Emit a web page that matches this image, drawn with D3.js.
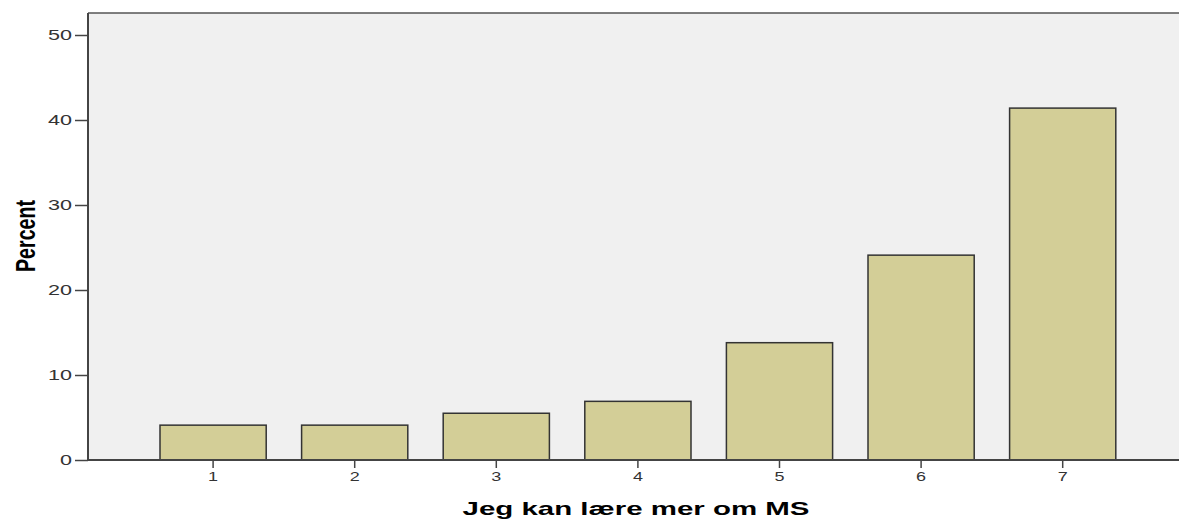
<!DOCTYPE html>
<html>
<head>
<meta charset="utf-8">
<script src="https://cdn.jsdelivr.net/npm/d3@7"></script>
<style>
  body { margin: 0; background: #fff; }
  svg { display: block; font-family: Arial, "Liberation Sans", sans-serif; }
</style>
</head>
<body>
<svg width="1179" height="519"></svg>
<script>
// values
var categories = ['1', '2', '3', '4', '5', '6', '7'];
var percents = [4.1, 4.1, 5.5, 6.9, 13.8, 24.1, 41.4];
var yTicks = [0, 10, 20, 30, 40, 50];
var xTitle = 'Jeg kan lære mer om MS';
var yTitle = 'Percent';

var svg = d3.select('svg');
var width = +svg.attr('width');
var height = +svg.attr('height');
var plot = {left: 88, top: 13, right: 1181, bottom: 460};

var xScale = d3.scaleBand()
    .domain(categories)
    .range([142.3, 142.3 + 7 * 141.6])
    .paddingInner(0.25)
    .paddingOuter(0.125);

var yScale = d3.scaleLinear()
    .domain([0, (plot.bottom - plot.top) / 8.5])
    .range([plot.bottom, plot.top]);

// plot background + top frame
svg.append('rect')
    .attr('x', plot.left)
    .attr('y', plot.top)
    .attr('width', plot.right - plot.left)
    .attr('height', plot.bottom - plot.top)
    .style('fill', '#f0f0f0');
svg.append('line')
    .attr('x1', plot.left).attr('x2', plot.right)
    .attr('y1', plot.top).attr('y2', plot.top)
    .style('stroke', '#555').style('stroke-width', 1.5);

// bars
svg.selectAll('.bar')
    .data(percents)
    .enter()
    .append('rect')
    .attr('class', 'bar')
    .attr('x', function(d, i) { return xScale(categories[i]); })
    .attr('y', function(d) { return yScale(d); })
    .attr('width', xScale.bandwidth())
    .attr('height', function(d) { return yScale(0) - yScale(d); })
    .style('fill', '#d3ce97')
    .style('stroke', '#333')
    .style('stroke-width', 1.5);

// y axis
var yAxis = svg.append('g')
    .attr('class', 'y axis')
    .attr('transform', 'translate(' + plot.left + ',0)')
    .call(d3.axisLeft(yScale).tickValues(yTicks).tickSize(13).tickPadding(3));
yAxis.select('.domain').remove();
yAxis.selectAll('.tick line').style('stroke', '#444').style('stroke-width', 1.5);
yAxis.selectAll('.tick text')
    .style('font-size', '14px')
    .style('fill', '#333')
    .attr('textLength', function(d) { return String(d).length * 12; })
    .attr('lengthAdjust', 'spacingAndGlyphs');
svg.append('line')
    .attr('x1', plot.left).attr('x2', plot.left)
    .attr('y1', plot.top).attr('y2', plot.bottom)
    .style('stroke', '#444').style('stroke-width', 2);

// x axis
var xAxis = svg.append('g')
    .attr('class', 'x axis')
    .attr('transform', 'translate(0,' + plot.bottom + ')')
    .call(d3.axisBottom(xScale).tickSize(8).tickPadding(4));
xAxis.select('.domain').remove();
xAxis.selectAll('.tick line').style('stroke', '#444').style('stroke-width', 1.5);
xAxis.selectAll('.tick text')
    .style('font-size', '13px')
    .style('fill', '#333')
    .attr('textLength', 10)
    .attr('lengthAdjust', 'spacingAndGlyphs');
svg.append('line')
    .attr('x1', plot.left).attr('x2', plot.right)
    .attr('y1', plot.bottom).attr('y2', plot.bottom)
    .style('stroke', '#444').style('stroke-width', 2);

// axis titles
svg.append('text')
    .attr('x', 636)
    .attr('y', 515)
    .attr('text-anchor', 'middle')
    .attr('textLength', 347)
    .attr('lengthAdjust', 'spacingAndGlyphs')
    .style('font-size', '19px')
    .style('font-weight', 'bold')
    .style('fill', '#000')
    .text(xTitle);

svg.append('text')
    .attr('transform', 'translate(35,236) rotate(-90)')
    .attr('text-anchor', 'middle')
    .attr('textLength', 72)
    .attr('lengthAdjust', 'spacingAndGlyphs')
    .style('font-size', '28px')
    .style('font-weight', 'bold')
    .style('fill', '#000')
    .text(yTitle);
</script>
</body>
</html>
